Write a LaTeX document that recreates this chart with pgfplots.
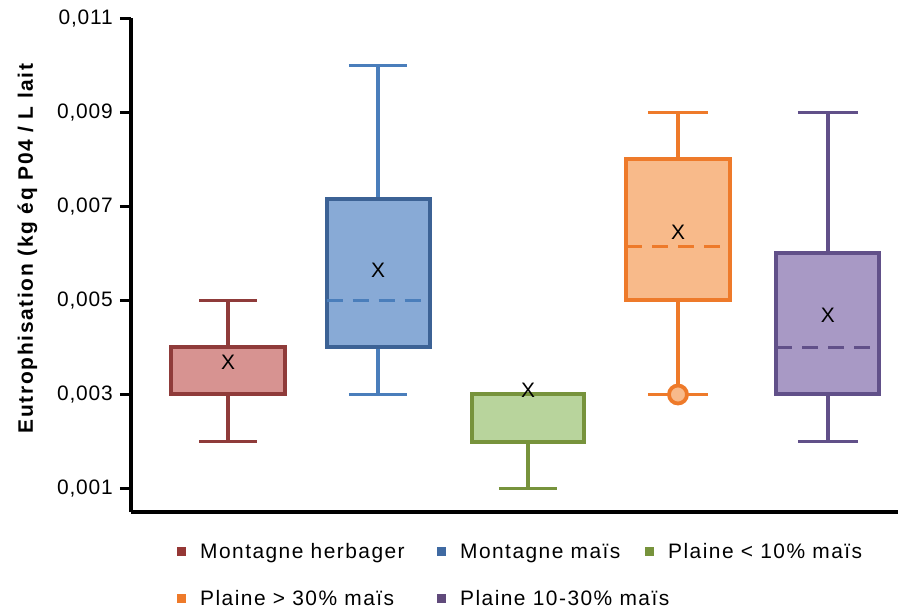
\documentclass[border=0pt]{standalone}
\usepackage{pgfplots}
\pgfplotsset{compat=1.18}
\usepgfplotslibrary{statistics}
\usepackage{fontspec}
\setmainfont{Liberation Sans}
\newfontfamily\lgfont[LetterSpace=7]{Liberation Sans}
\newfontfamily\ylfont[LetterSpace=8]{Liberation Sans}
\newfontfamily\tkfont[LetterSpace=4]{Liberation Sans}
\definecolor{redB}{HTML}{8F3B3A}
\definecolor{redF}{HTML}{D79391}
\definecolor{redL}{HTML}{953735}
\definecolor{bluB}{HTML}{3C6295}
\definecolor{bluW}{HTML}{4A7EBB}
\definecolor{bluF}{HTML}{88AAD6}
\definecolor{bluL}{HTML}{3F6AA2}
\definecolor{grnB}{HTML}{77933C}
\definecolor{grnF}{HTML}{B8D49C}
\definecolor{orB}{HTML}{EE7A2A}
\definecolor{orF}{HTML}{F8BA8A}
\definecolor{purB}{HTML}{615089}
\definecolor{purF}{HTML}{A899C5}
\definecolor{purL}{HTML}{604A7B}
\begin{document}
\begin{tikzpicture}
\useasboundingbox (-131bp,-98bp) rectangle (770bp,512bp);
% values in units of 0.001 kg eq PO4 / L
\begin{axis}[
  scale only axis,
  width=767bp, height=493.5bp,
  at={(0,0)}, anchor=south west,
  xmin=-0.647, xmax=4.467,
  ymin=0.5, ymax=11,
  axis x line*=bottom, axis y line*=left,
  axis line style={line width=3.2bp, black},
  xtick=\empty,
  ytick={1,3,5,7,9,11},
  yticklabels={{0,001},{0,003},{0,005},{0,007},{0,009},{0,011}},
  tick align=outside,
  major tick length=11bp,
  major tick style={line width=3.2bp, black},
  yticklabel style={font=\tkfont\fontsize{21}{21}\selectfont, inner xsep=7bp},
  ylabel={\ylfont\bfseries Eutrophisation (kg éq P04 / L lait},
  ylabel style={at={(axis description cs:-0.1278,0.534)}, anchor=base, font=\fontsize{21}{21}\selectfont},
  clip=false,
  boxplot/draw direction=y,
  legend cell align=left,
  legend style={at={(axis description cs:0.0593,-0.0598)}, anchor=north west,
    draw=none, fill=none, inner sep=0pt, row sep=28bp,
    font=\lgfont\fontsize{21}{21}\selectfont,
    nodes={inner sep=0pt, text height=17bp, text depth=2bp},
    /tikz/every odd column/.append style={column sep=14.5bp},
    /tikz/every even column/.append style={column sep=0pt}},
  legend columns=3,
]
% Montagne herbager
\addplot[forget plot, boxplot prepared={draw direction=y, draw position=0,
  lower whisker=2, lower quartile=3, median=4,
  upper quartile=4, upper whisker=5,
  box extend=0.76, whisker extend=0.387,
  every box/.style={draw=redB, fill=redF, line width=4bp},
  every whisker/.style={draw=redB, line width=3.6bp},
  every median/.style={draw=redB, line width=3.6bp}}] coordinates {};
% Montagne mais
\addplot[forget plot, boxplot prepared={draw direction=y, draw position=1,
  lower whisker=3, lower quartile=4, median=5,
  upper quartile=7.15, upper whisker=10,
  box extend=0.687, whisker extend=0.387,
  every box/.style={draw=bluB, fill=bluF, line width=4bp},
  every whisker/.style={draw=bluW, line width=3.6bp},
  every median/.style={draw=bluW, line width=3.6bp, dash pattern=on 16bp off 10bp}}] coordinates {};
% Plaine < 10%
\addplot[forget plot, boxplot prepared={draw direction=y, draw position=2,
  lower whisker=1, lower quartile=2, median=3,
  upper quartile=3, upper whisker=3,
  box extend=0.753, whisker extend=0.387,
  every box/.style={draw=grnB, fill=grnF, line width=4bp},
  every whisker/.style={draw=grnB, line width=3.6bp},
  every median/.style={draw=grnB, line width=3.6bp}}] coordinates {};
% Plaine > 30%
\addplot[forget plot, boxplot prepared={draw direction=y, draw position=3,
  lower whisker=3, lower quartile=5, median=6.15,
  upper quartile=8, upper whisker=9,
  box extend=0.693, whisker extend=0.40,
  every box/.style={draw=orB, fill=orF, line width=4bp},
  every whisker/.style={draw=orB, line width=3.6bp},
  every median/.style={draw=orB, line width=3.6bp, dash pattern=on 16bp off 10bp}}] coordinates {};
% Plaine 10-30%
\addplot[forget plot, boxplot prepared={draw direction=y, draw position=4,
  lower whisker=2, lower quartile=3, median=4,
  upper quartile=6, upper whisker=9,
  box extend=0.687, whisker extend=0.40,
  every box/.style={draw=purB, fill=purF, line width=4bp},
  every whisker/.style={draw=purB, line width=3.6bp},
  every median/.style={draw=purB, line width=3.6bp, dash pattern=on 16bp off 10bp}}] coordinates {};
% outlier
\addplot[forget plot, only marks, mark=*, mark size=9bp,
  mark options={draw=orB, fill=orF, line width=3.8bp}] coordinates {(3,3)};
% means
\addplot[forget plot, only marks, mark=text,
  text mark={\fontsize{21}{21}\selectfont X}] coordinates {
  (0,3.68) (1,5.64) (2,3.09) (3,6.45) (4,4.68)};
% legend
\addlegendimage{legend image code/.code={\fill[redL] (-4.3bp,-4.3bp) rectangle (4.3bp,4.3bp);}}
\addlegendentry{\makebox[236.5bp][l]{Montagne herbager}}
\addlegendimage{legend image code/.code={\fill[bluL] (-4.3bp,-4.3bp) rectangle (4.3bp,4.3bp);}}
\addlegendentry{\makebox[184.5bp][l]{Montagne maïs}}
\addlegendimage{legend image code/.code={\fill[grnB] (-4.3bp,-4.3bp) rectangle (4.3bp,4.3bp);}}
\addlegendentry{Plaine < 10\% maïs}
\addlegendimage{legend image code/.code={\fill[orB] (-4.3bp,-4.3bp) rectangle (4.3bp,4.3bp);}}
\addlegendentry{\makebox[236.5bp][l]{Plaine > 30\% maïs}}
\addlegendimage{legend image code/.code={\fill[purL] (-4.3bp,-4.3bp) rectangle (4.3bp,4.3bp);}}
\addlegendentry{\makebox[184.5bp][l]{Plaine 10-30\% maïs}}
\end{axis}
\end{tikzpicture}
\end{document}
